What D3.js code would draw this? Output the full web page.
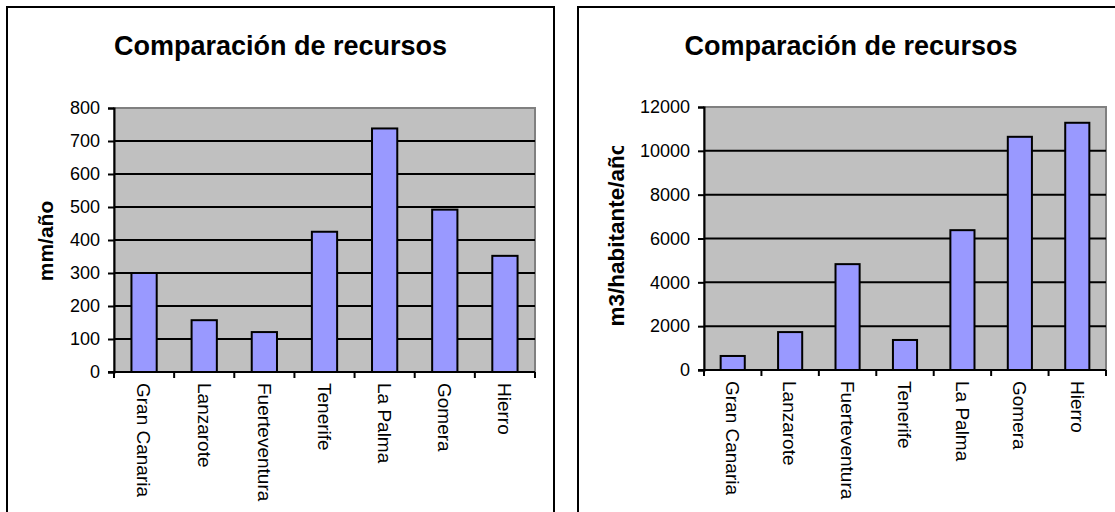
<!DOCTYPE html>
<html>
<head>
<meta charset="utf-8">
<script src="https://cdn.jsdelivr.net/npm/d3@7"></script>
<style>
  html, body { margin: 0; padding: 0; background: #fff; }
  svg { display: block; }
  text { font-family: "Liberation Sans", Arial, sans-serif; fill: #000; }
</style>
</head>
<body>
<svg id="chart" width="1115" height="512"></svg>
<script>
// Islands shown on both charts
const islands = ["Gran Canaria", "Lanzarote", "Fuerteventura", "Tenerife", "La Palma", "Gomera", "Hierro"];

// Rainfall, mm per year
const rainfall = [300, 157, 121, 425, 738, 492, 352];
const rainfallTicks = [0, 100, 200, 300, 400, 500, 600, 700, 800];

// Water resources, m3 per inhabitant per year
const perCapita = [640, 1730, 4830, 1370, 6380, 10640, 11280];
const perCapitaTicks = [0, 2000, 4000, 6000, 8000, 10000, 12000];

const chartTitle = "Comparación de recursos";

const svg = d3.select("#chart");

function drawPanel(opt) {
  const g = svg.append("g");

  // outer frame
  g.append("rect")
    .attr("x", opt.frame.x).attr("y", opt.frame.y)
    .attr("width", opt.frame.w).attr("height", opt.frame.h)
    .attr("fill", "#fff").attr("stroke", "#000").attr("stroke-width", 2);

  // title
  g.append("text")
    .attr("x", opt.frame.x + opt.frame.w / 2)
    .attr("y", opt.titleY)
    .attr("text-anchor", "middle")
    .attr("font-weight", "bold")
    .attr("font-size", 27)
    .text(chartTitle);

  const x = d3.scaleBand().domain(islands).range([opt.plot.x0, opt.plot.x1]);
  const y = d3.scaleLinear().domain([0, opt.max]).range([opt.plot.y1, opt.plot.y0]);

  // plot area
  g.append("rect")
    .attr("x", opt.plot.x0).attr("y", opt.plot.y0)
    .attr("width", opt.plot.x1 - opt.plot.x0)
    .attr("height", opt.plot.y1 - opt.plot.y0)
    .attr("fill", "#c0c0c0").attr("stroke", "#808080").attr("stroke-width", 2);

  // horizontal gridlines
  g.append("g").selectAll("line")
    .data(opt.ticks.filter(t => t > 0 && t < opt.max))
    .join("line")
    .attr("x1", opt.plot.x0).attr("x2", opt.plot.x1)
    .attr("y1", d => y(d)).attr("y2", d => y(d))
    .attr("stroke", "#000").attr("stroke-width", 2);

  // bars
  const bw = x.bandwidth() * 0.42;
  g.append("g").selectAll("rect")
    .data(opt.values)
    .join("rect")
    .attr("x", (d, i) => x(islands[i]) + (x.bandwidth() - bw) / 2)
    .attr("y", d => y(d))
    .attr("width", bw)
    .attr("height", d => y(0) - y(d))
    .attr("fill", "#9999ff").attr("stroke", "#000").attr("stroke-width", 2);

  // y axis
  const yAxis = d3.axisLeft(y).tickValues(opt.ticks).tickSize(6).tickPadding(8).tickFormat(d3.format("d"));
  const ya = g.append("g").attr("transform", `translate(${opt.plot.x0},0)`).call(yAxis);
  ya.select(".domain").attr("stroke", "#000").attr("stroke-width", 2);
  ya.selectAll(".tick line").attr("stroke", "#000").attr("stroke-width", 2);
  ya.selectAll(".tick text").attr("font-size", 18).attr("font-family", "Liberation Sans, Arial, sans-serif");

  // x axis: baseline + ticks between categories
  const xa = g.append("g");
  xa.append("line")
    .attr("x1", opt.plot.x0 - 6).attr("x2", opt.plot.x1)
    .attr("y1", opt.plot.y1).attr("y2", opt.plot.y1)
    .attr("stroke", "#000").attr("stroke-width", 2);
  const bounds = islands.map(d => x(d)).concat([opt.plot.x1]);
  xa.selectAll("line.tk").data(bounds).join("line").attr("class", "tk")
    .attr("x1", d => d).attr("x2", d => d)
    .attr("y1", opt.plot.y1).attr("y2", opt.plot.y1 + 6)
    .attr("stroke", "#000").attr("stroke-width", 2);
  xa.selectAll("text").data(islands).join("text")
    .attr("transform", d => `translate(${x(d) + x.bandwidth() / 2},${opt.plot.y1 + 11}) rotate(90)`)
    .attr("dy", "0.35em")
    .attr("text-anchor", "start")
    .attr("font-size", 19)
    .text(d => d);

  // y axis title, clipped at the top when it does not fit
  const clipId = "clip" + opt.id;
  svg.append("clipPath").attr("id", clipId)
    .append("rect")
    .attr("x", opt.frame.x).attr("y", opt.yTitleClipTop)
    .attr("width", opt.plot.x0 - opt.frame.x).attr("height", 512);
  g.append("g")
    .attr("clip-path", `url(#${clipId})`)
    .append("text")
    .attr("transform", `translate(${opt.yTitleX},${opt.yTitleY}) rotate(-90)`)
    .attr("text-anchor", "middle")
    .attr("font-weight", "bold")
    .attr("font-size", opt.yTitleSize)
    .text(opt.yTitle);
}

drawPanel({
  id: "a",
  frame: { x: 7, y: 7, w: 547, h: 530 },
  plot: { x0: 114, x1: 535, y0: 108, y1: 372 },
  titleY: 55,
  max: 800,
  ticks: rainfallTicks,
  values: rainfall,
  yTitle: "mm/año",
  yTitleX: 53,
  yTitleY: 241,
  yTitleSize: 21,
  yTitleClipTop: 0
});

drawPanel({
  id: "b",
  frame: { x: 578, y: 7, w: 546, h: 530 },
  plot: { x0: 704, x1: 1106, y0: 107, y1: 370 },
  titleY: 55,
  max: 12000,
  ticks: perCapitaTicks,
  values: perCapita,
  yTitle: "m3/habitante/año",
  yTitleX: 624,
  yTitleY: 234,
  yTitleSize: 22.5,
  yTitleClipTop: 146
});
</script>
</body>
</html>
